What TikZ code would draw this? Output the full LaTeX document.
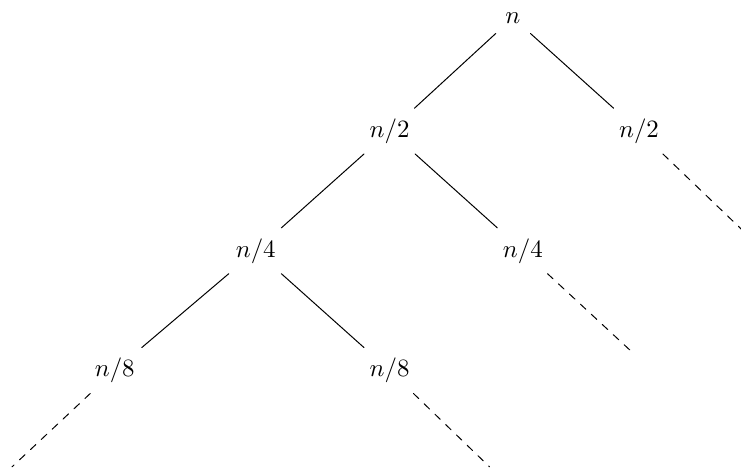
\documentclass[tikz,border=0pt]{standalone}
\usepackage{amsmath}
\usepackage{tikz}
\usetikzlibrary{calc}

\begin{document}
\begin{tikzpicture}[line cap=round,
    term/.style={inner sep=4pt},
    split/.style={thin,black},
    rest/.style={thin,black,dashed}]
  \useasboundingbox (0,0) rectangle (10.46,-6.66);
  % nodes of the recursion
  \node[term] (r)   at (7.24,-0.25) {$n$};
  \node[term] (l1)  at (5.50,-1.85) {$n/2$};
  \node[term] (r1)  at (9.02,-1.85) {$n/2$};
  \node[term] (l2)  at (3.61,-3.54) {$n/4$};
  \node[term] (r2)  at (7.38,-3.54) {$n/4$};
  \node[term] (l3)  at (1.62,-5.23) {$n/8$};
  \node[term] (r3)  at (5.50,-5.23) {$n/8$};
  % free ends of the dashed branches
  \coordinate (e1) at (10.47,-3.24);
  \coordinate (e2) at (8.89,-4.94);
  \coordinate (e3) at (0.17,-6.59);
  \coordinate (e4) at (6.91,-6.59);
  \draw[split] (r) -- (l1);
  \draw[split] (r) -- (r1);
  \draw[split] (l1) -- (l2);
  \draw[split] (l1) -- (r2);
  \draw[split] (l2) -- (l3);
  \draw[split] (l2) -- (r3);
  \draw[rest] (r1) -- (e1);
  \draw[rest] (r2) -- (e2);
  \draw[rest] (l3) -- (e3);
  \draw[rest] (r3) -- (e4);
\end{tikzpicture}
\end{document}
